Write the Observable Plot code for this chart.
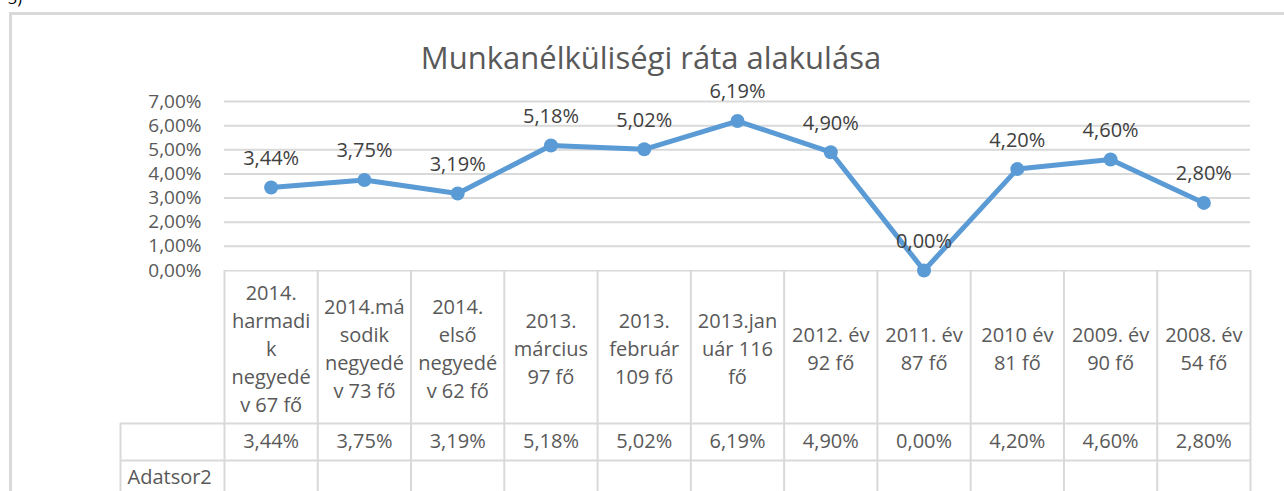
<!DOCTYPE html>
<html>
<head>
<meta charset="utf-8">
<script src="https://cdn.jsdelivr.net/npm/d3@7"></script>
<script src="https://cdn.jsdelivr.net/npm/@observablehq/plot@0.6"></script>
<style>
  body { margin: 0; background: #fff; width: 1284px; height: 491px; overflow: hidden; position: relative; font-family: "Open Sans", sans-serif; }
  #frame { position: absolute; left: 9px; top: 12px; width: 1300px; height: 520px; border-left: 3px solid #d9d9d9; border-top: 3px solid #d9d9d9; }
  #cut { position: absolute; left: 8px; top: -13px; font-size: 16px; color: #000; }
  #title { position: absolute; left: 0; width: 1302px; top: 38px; text-align: center; font-size: 31px; line-height: 38px; color: #595959; white-space: nowrap; }
  #table, #chart { position: absolute; left: 0; }
  #table { top: 270px; }
  #chart { top: 70px; }
</style>
</head>
<body>
<div id="frame"></div>
<div id="cut">3)</div>
<div id="title"></div>
<div id="table"></div>
<div id="chart"></div>
<script>
const title = "Munkanélküliségi ráta alakulása";
const categories = [
  "2014.\nharmadi\nk\nnegyedé\nv 67 fő",
  "2014.má\nsodik\nnegyedé\nv 73 fő",
  "2014.\nelső\nnegyedé\nv 62 fő",
  "2013.\nmárcius\n97 fő",
  "2013.\nfebruár\n109 fő",
  "2013.jan\nuár 116\nfő",
  "2012. év\n92 fő",
  "2011. év\n87 fő",
  "2010 év\n81 fő",
  "2009. év\n90 fő",
  "2008. év\n54 fő"
];
const values = [3.44, 3.75, 3.19, 5.18, 5.02, 6.19, 4.90, 0.00, 4.20, 4.60, 2.80];
const yTicks = [0, 1, 2, 3, 4, 5, 6, 7];
const seriesLabel = "Adatsor2";

document.getElementById("title").textContent = title;

const data = categories.map((c, i) => ({i, c, v: values[i]}));
const fmt = d => d.toFixed(2).replace(".", ",") + "%";

const W = 1284, ML = 224, MR = 34;
const xDomain = [-0.5, categories.length - 0.5];
const colW = (W - ML - MR) / categories.length;
const labelLeft = -0.5 - 104 / colW;
const grid = "#d9d9d9";
const txt = "#595959";

// Line chart
const chart = Plot.plot({
  width: W, height: 210,
  marginLeft: ML, marginRight: MR, marginTop: 31, marginBottom: 10,
  style: {background: "transparent", overflow: "visible", fontFamily: "Open Sans", fontSize: "19px", color: txt},
  x: {domain: xDomain, axis: null},
  y: {domain: [0, 7], ticks: yTicks, tickFormat: fmt, tickSize: 0, tickPadding: 23, label: null},
  marks: [
    Plot.ruleY(yTicks.filter(t => t > 0), {stroke: grid, strokeWidth: 2}),
    Plot.line(data, {x: "i", y: "v", stroke: "#5b9bd5", strokeWidth: 5, strokeLinejoin: "round"}),
    Plot.dot(data, {x: "i", y: "v", r: 7, fill: "#5b9bd5"}),
    Plot.text(data, {x: "i", y: "v", text: d => fmt(d.v), dy: -29, fontSize: 20, fill: "#404040"})
  ]
});
document.getElementById("chart").append(chart);

// Data table
const hdrBottom = 153, valBottom = 190, tblBottom = 240;
const table = Plot.plot({
  width: W, height: 221,
  marginLeft: ML, marginRight: MR, marginTop: 0, marginBottom: 0,
  style: {background: "transparent", fontFamily: "Open Sans", fontSize: "20px", color: txt},
  x: {domain: xDomain, axis: null},
  y: {domain: [0, 221], range: [0, 221], axis: null},
  marks: [
    Plot.ruleX(d3.range(categories.length + 1).map(k => k - 0.5), {y1: 0, y2: tblBottom, stroke: grid, strokeWidth: 2}),
    Plot.ruleX([labelLeft], {y1: hdrBottom, y2: tblBottom, stroke: grid, strokeWidth: 2}),
    Plot.ruleY([0], {x1: xDomain[0], x2: xDomain[1], stroke: grid, strokeWidth: 2}),
    Plot.ruleY([hdrBottom, valBottom], {x1: labelLeft, x2: xDomain[1], stroke: grid, strokeWidth: 2}),
    Plot.text(data, {x: "i", y: () => hdrBottom / 2, text: "c", lineHeight: 1.4, fill: txt}),
    Plot.text(data, {x: "i", y: () => (hdrBottom + valBottom) / 2, text: d => fmt(d.v), fill: txt}),
    Plot.text([seriesLabel], {x: () => labelLeft, y: () => 207, dx: 7, text: d => d, textAnchor: "start", fill: txt})
  ]
});
document.getElementById("table").append(table);
</script>
</body>
</html>
